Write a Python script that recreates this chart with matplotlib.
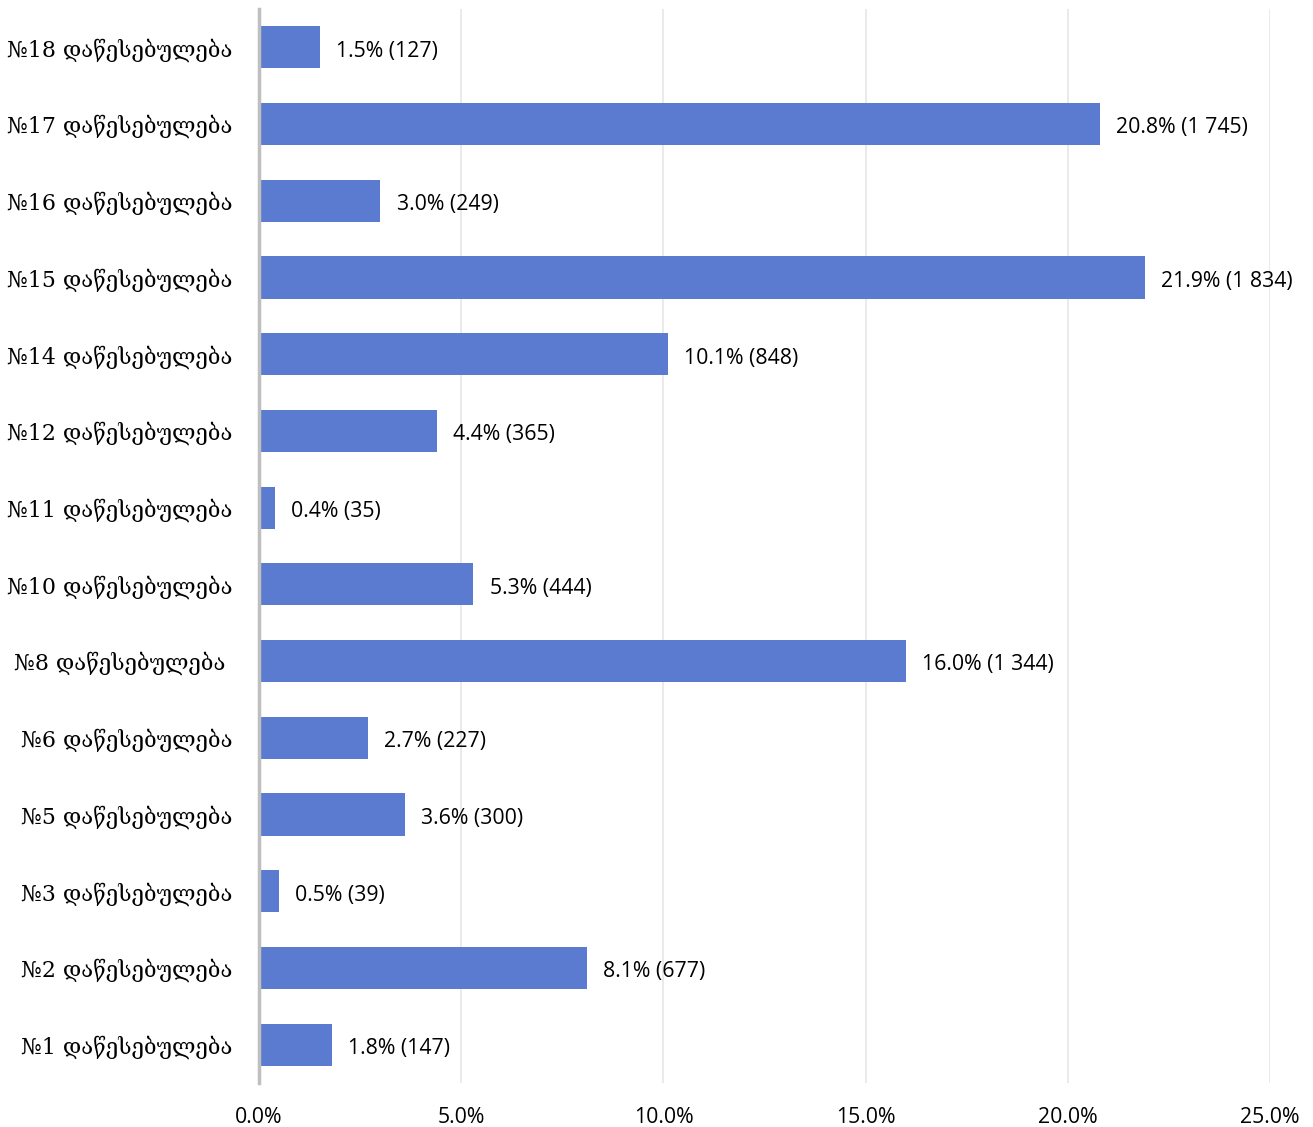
import matplotlib.pyplot as plt
import numpy as np

labels = ['№18 დაწესებულება', '№17 დაწესებულება', '№16 დაწესებულება', '№15 დაწესებულება',
          '№14 დაწესებულება', '№12 დაწესებულება', '№11 დაწესებულება', '№10 დაწესებულება',
          '№8 დაწესებულება ', '№6 დაწესებულება', '№5 დაწესებულება', '№3 დაწესებულება',
          '№2 დაწესებულება', '№1 დაწესებულება']
percents = [1.5, 20.8, 3.0, 21.9, 10.1, 4.4, 0.4, 5.3, 16.0, 2.7, 3.6, 0.5, 8.1, 1.8]
counts = [127, 1745, 249, 1834, 848, 365, 35, 444, 1344, 227, 300, 39, 677, 147]
xticks = [0, 5, 10, 15, 20, 25]

fig = plt.figure(figsize=(13.13, 11.27), dpi=100)
ax = fig.add_axes([0.1973, 0.039, 0.77, 0.953])

y = np.arange(len(labels))
ax.barh(y, percents, height=0.55, color='#5B7BD0', zorder=3)
ax.set_ylim(len(labels) - 0.5, -0.5)
ax.set_xlim(0, 25)

for yi, p, c in zip(y, percents, counts):
    cnt = f'{c:,}'.replace(',', ' ')
    ax.text(p + 0.4, yi + 0.05, f'{p:.1f}% ({cnt})', va='center', ha='left',
            fontsize=15.3, family='Open Sans', color='black')

ax.set_yticks(y)
ax.set_yticklabels(labels, family='DejaVu Serif', fontsize=15.8)
ax.set_xticks(xticks)
ax.set_xticklabels([f'{t:.1f}%' for t in xticks], family='Open Sans', fontsize=15.3)
ax.tick_params(axis='both', length=0)
ax.tick_params(axis='x', pad=17)
ax.tick_params(axis='y', pad=19)

ax.grid(axis='x', color='#E6E6E6', linewidth=1.2, zorder=0)
for s in ['top', 'right', 'bottom']:
    ax.spines[s].set_visible(False)
ax.spines['left'].set_color('#BFBFBF')
ax.spines['left'].set_linewidth(2.5)
ax.spines['left'].set_zorder(4)

fig.savefig('out.png', dpi=100)
